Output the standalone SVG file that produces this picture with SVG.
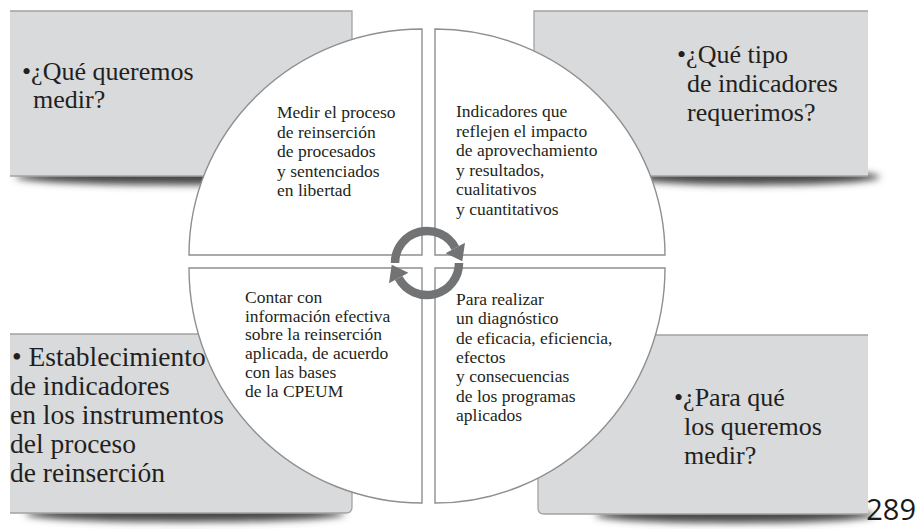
<svg xmlns="http://www.w3.org/2000/svg" width="922" height="529" viewBox="0 0 922 529">
<defs>
<style>
.box{fill:#d9dadc;}
.edge{fill:none;stroke:#a3a3a5;stroke-width:1.3;}
.shadow{fill:#4a4a4a;filter:url(#blur);}
.quad{fill:#ffffff;stroke:#8f8f8f;stroke-width:1.4;}
.big{font-family:"Liberation Serif","Times New Roman",serif;font-size:26px;fill:#231f20;}
.bigl{font-family:"Liberation Serif","Times New Roman",serif;font-size:27.5px;fill:#231f20;}
.small{font-family:"Liberation Serif","Times New Roman",serif;font-size:17.5px;fill:#231f20;}
.arc{fill:none;stroke:#727375;stroke-width:8.5;}
.head{fill:#727375;}
.page{font-family:"Open Sans","Noto Sans",sans-serif;font-size:29px;fill:#1a1a1a;text-anchor:end;}
</style>
<filter id="blur" x="-20%" y="-200%" width="140%" height="500%"><feGaussianBlur stdDeviation="3.5"/></filter>
</defs>
<rect width="922" height="529" fill="#ffffff"/>

<g id="box-tl">
<ellipse class="shadow" cx="185" cy="177" rx="170" ry="8"/>
<rect class="box" x="10" y="11" width="342" height="165"/>
<path class="edge" d="M10,11 H352 V176 H10"/>
<text class="big"><tspan x="22" y="80">•¿Qué queremos</tspan><tspan x="33" y="108">medir?</tspan></text>
</g>

<g id="box-tr">
<ellipse class="shadow" cx="755" cy="177" rx="125" ry="8"/>
<rect class="box" x="534" y="11" width="334" height="165"/>
<path class="edge" d="M868,11 H534 V176 H868"/>
<text class="big"><tspan x="677" y="63">•¿Qué tipo</tspan><tspan x="687" y="92">de indicadores</tspan><tspan x="687" y="121">requerimos?</tspan></text>
</g>

<g id="box-bl">
<ellipse class="shadow" cx="185" cy="514" rx="160" ry="8"/>
<path class="box" d="M10,334 H352 V507 Q352,513 346,513 H10 Z"/>
<path class="edge" d="M10,334 H352 V507 Q352,513 346,513 H10"/>
<text class="bigl"><tspan x="12" y="366">• Establecimiento</tspan><tspan x="10" y="395">de indicadores</tspan><tspan x="10" y="424">en los instrumentos</tspan><tspan x="10" y="453">del proceso</tspan><tspan x="10" y="482">de reinserción</tspan></text>
</g>

<g id="box-br">
<ellipse class="shadow" cx="735" cy="515" rx="140" ry="8"/>
<path class="box" d="M868,335 H538 V508 Q538,514 544,514 H868 Z"/>
<path class="edge" d="M868,335 H538 V508 Q538,514 544,514 H868"/>
<text class="big"><tspan x="674" y="406">•¿Para qué</tspan><tspan x="684" y="435">los queremos</tspan><tspan x="684" y="464">medir?</tspan></text>
</g>

<g id="quad-tl">
<path class="quad" d="M422,255 V29 A233,226 0 0 0 189,255 Z"/>
<text class="small"><tspan x="277" y="118">Medir el proceso</tspan><tspan x="277" y="137.5">de reinserción</tspan><tspan x="277" y="157">de procesados</tspan><tspan x="277" y="176.5">y sentenciados</tspan><tspan x="277" y="196">en libertad</tspan></text>
</g>

<g id="quad-tr">
<path class="quad" d="M435,255 V29 A230,226 0 0 1 665,255 Z"/>
<text class="small"><tspan x="456" y="117">Indicadores que</tspan><tspan x="456" y="136.5">reflejen el impacto</tspan><tspan x="456" y="156">de aprovechamiento</tspan><tspan x="456" y="175.5">y resultados,</tspan><tspan x="456" y="195">cualitativos</tspan><tspan x="456" y="214.5">y cuantitativos</tspan></text>
</g>

<g id="quad-bl">
<path class="quad" d="M422,268 H189 A233,235 0 0 0 422,503 Z"/>
<text class="small"><tspan x="245" y="303">Contar con</tspan><tspan x="245" y="321.7">información efectiva</tspan><tspan x="245" y="340.4">sobre la reinserción</tspan><tspan x="245" y="359.1">aplicada, de acuerdo</tspan><tspan x="245" y="377.8">con las bases</tspan><tspan x="245" y="396.5">de la CPEUM</tspan></text>
</g>

<g id="quad-br">
<path class="quad" d="M435,268 H665 A230,235 0 0 1 435,503 Z"/>
<text class="small"><tspan x="456" y="305">Para realizar</tspan><tspan x="456" y="324.3">un diagnóstico</tspan><tspan x="456" y="343.6">de eficacia, eficiencia,</tspan><tspan x="456" y="362.9">efectos</tspan><tspan x="456" y="382.2">y consecuencias</tspan><tspan x="456" y="401.5">de los programas</tspan><tspan x="456" y="420.8">aplicados</tspan></text>
</g>

<g id="connectors">
<path class="arc" d="M395,263 A32,32 0 0 1 455.3,248"/>
<polygon class="head" points="465,242.8 445.6,253.2 462.3,261.2"/>
<path class="arc" d="M459,263 A32,32 0 0 1 398.7,278"/>
<polygon class="head" points="389,283.2 408.4,272.8 391.7,264.8"/>
</g>

<text class="page" x="916" y="520">289</text>
</svg>
